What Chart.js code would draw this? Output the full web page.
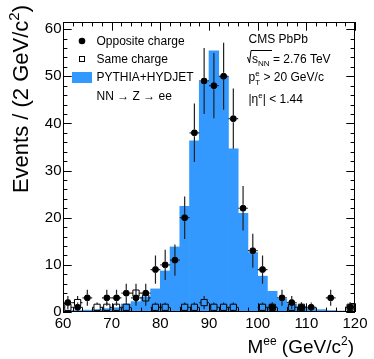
<!DOCTYPE html>
<html>
<head>
<meta charset="utf-8">
<script src="https://cdn.jsdelivr.net/npm/chart.js@4.4.1/dist/chart.umd.min.js"></script>
<style>
  html, body { margin: 0; padding: 0; background: #fff; }
  #wrap { position: relative; width: 374px; height: 359px; }
</style>
</head>
<body>
<div id="wrap"><canvas id="zee" width="374" height="359"></canvas></div>
<script>
// --- data (2 GeV/c^2 bins, 60-120) ---
const binCenters = [61, 63, 65, 67, 69, 71, 73, 75, 77, 79, 81, 83, 85, 87, 89,
                    91, 93, 95, 97, 99, 101, 103, 105, 107, 109, 111, 113, 115, 117, 119]
const mcYield = [0.3, 0.3, 0.4, 0.5, 0.7, 0.9, 1.7, 2.2, 3.2, 4.9, 8.7, 13.8, 22.4, 36.3, 48.8,
                 55.4, 50.0, 34.6, 20.9, 12.6, 7.6, 4.4, 2.7, 1.7, 1.1, 0.8, 0.5, 0.3, 0.2, 0.1]
const oppCharge = [2, 1, 3, 0, 3, 3, 4, 3, 4, 9, 10, 11, 20, 38, 49,
                   48, 50, 41, 22, 13, 9, 1, 3, 2, 1, 1, 0, 3, 0, 1]
const oppErr = [1.4, 1, 1.7, 0, 1.7, 1.7, 2, 1.7, 2, 3, 3.2, 3.3, 4.5, 6.2, 7,
                6.9, 7.1, 6.4, 4.7, 3.6, 3, 1, 1.7, 1.4, 1, 1, 0, 1.7, 0, 1]
const sameCharge = [1, 2, 0, 1, 1, 1, 1, 4, 3, 1, 1, 0, 1, 1, 2,
                    1, 1, 1, 0, 0, 1, 1, 0, 1, 1, 0, 0, 0, 0, 1]
const sameErr = [1, 1.4, 0, 1, 1, 1, 1, 2, 1.7, 1, 1, 0, 1, 1, 1.4,
                 1, 1, 1, 0, 0, 1, 1, 0, 1, 1, 0, 0, 0, 0, 1]
const halfBin = 1
const xTicks = [60, 70, 80, 90, 100, 110, 120]
const yTicks = [0, 10, 20, 30, 40, 50, 60]

const FONT = '"Liberation Sans", Arial, Helvetica, sans-serif'
const BLUE = '#3399ff'

const toPoints = (vals) => binCenters.map((x, i) => ({ x: x, y: vals[i] > 0 ? vals[i] : null }))

// draw a run of text pieces [text, size, dy]
function richText(ctx, parts, x, y, align) {
  let w = 0
  parts.forEach(p => { ctx.font = p[1] + 'px ' + FONT; w += ctx.measureText(p[0]).width })
  let cx = align === 'right' ? x - w : x
  parts.forEach(p => {
    ctx.font = p[1] + 'px ' + FONT
    ctx.fillText(p[0], cx, y + (p[2] || 0))
    cx += ctx.measureText(p[0]).width
  })
  return cx
}

// error bars, drawn under each marker set
const errorBars = {
  id: 'errorBars',
  beforeDatasetDraw(chart, args) {
    const ds = chart.data.datasets[args.index]
    if (!ds.errs) return
    const { ctx, scales: { x, y } } = chart
    const gap = ds.gap
    ctx.save()
    ctx.strokeStyle = '#222'
    ctx.lineWidth = 1.2
    ds.vals.forEach((v, i) => {
      if (!(v > 0)) return
      const px = x.getPixelForValue(binCenters[i])
      const py = y.getPixelForValue(v)
      const top = y.getPixelForValue(v + ds.errs[i])
      const bot = Math.min(y.getPixelForValue(Math.max(v - ds.errs[i], 0)), chart.chartArea.bottom)
      const lft = x.getPixelForValue(binCenters[i] - halfBin)
      const rgt = x.getPixelForValue(binCenters[i] + halfBin)
      ctx.beginPath()
      if (py - gap > top) { ctx.moveTo(px, py - gap); ctx.lineTo(px, top) }
      if (py + gap < bot) { ctx.moveTo(px, py + gap); ctx.lineTo(px, bot) }
      ctx.moveTo(lft, py); ctx.lineTo(px - gap, py)
      ctx.moveTo(px + gap, py); ctx.lineTo(rgt, py)
      ctx.stroke()
    })
    ctx.restore()
  }
}

// ROOT style frame, inward ticks, titles, legend and labels
const decor = {
  id: 'decor',
  afterDraw(chart) {
    const { ctx, chartArea: a, scales: { x, y } } = chart
    ctx.save()
    ctx.strokeStyle = '#000'
    ctx.lineWidth = 1
    ctx.strokeRect(a.left + 0.5, a.top + 0.5, a.right - a.left - 1, a.bottom - a.top - 1)
    ctx.beginPath()
    for (let m = 60; m <= 120; m += 2) {
      const px = Math.round(x.getPixelForValue(m)) + 0.5
      const len = m % 10 === 0 ? 8.7 : 4.4
      ctx.moveTo(px, a.bottom); ctx.lineTo(px, a.bottom - len)
      ctx.moveTo(px, a.top); ctx.lineTo(px, a.top + len)
    }
    for (let v = 0; v <= 60; v += 2) {
      const py = Math.round(y.getPixelForValue(v)) + 0.5
      const len = v % 10 === 0 ? 8.7 : 4.4
      ctx.moveTo(a.left, py); ctx.lineTo(a.left + len, py)
      ctx.moveTo(a.right, py); ctx.lineTo(a.right - len, py)
    }
    ctx.stroke()

    ctx.fillStyle = '#000'
    ctx.textBaseline = 'alphabetic'
    // axis titles
    richText(ctx, [['M', 19], ['ee', 12, -8], [' (GeV/c', 19], ['2', 12, -8], [')', 19]], 354, 353, 'right')
    ctx.save()
    ctx.translate(27.5, 5)
    ctx.rotate(-Math.PI / 2)
    richText(ctx, [['Events / (2 GeV/c', 22], ['2', 15, -9], [')', 22]], 0, 0, 'right')
    ctx.restore()

    // legend
    ctx.beginPath(); ctx.arc(82, 41, 3.3, 0, 2 * Math.PI); ctx.fill()
    ctx.strokeRect(79.5, 56.5, 5, 5)
    ctx.fillStyle = BLUE; ctx.fillRect(72, 72, 20, 11)
    ctx.fillStyle = '#000'
    richText(ctx, [['Opposite charge', 12]], 96.5, 45.3)
    richText(ctx, [['Same charge', 12]], 96.5, 63)
    richText(ctx, [['PYTHIA+HYDJET', 12]], 96.5, 81.3)
    richText(ctx, [['NN \u2192 Z \u2192 ee', 12]], 96.5, 100)

    // CMS labels
    richText(ctx, [['CMS PbPb', 12]], 248.5, 43.3)
    ctx.beginPath()
    ctx.moveTo(247.5, 57); ctx.lineTo(249.5, 62.8); ctx.lineTo(251, 50.5); ctx.lineTo(272, 50.5)
    ctx.stroke()
    const after = richText(ctx, [['s', 12], ['NN', 8, 3]], 252, 62.7)
    richText(ctx, [[' = 2.76 TeV', 12]], after, 62.7)
    const pEnd = richText(ctx, [['p', 12]], 248.5, 81)
    richText(ctx, [['e', 8, -5]], pEnd, 81)
    richText(ctx, [['T', 8, 4]], pEnd, 81)
    richText(ctx, [[' > 20 GeV/c', 12]], pEnd + 5, 81)
    richText(ctx, [['|\u03b7', 12], ['e', 8, -5], ['| < 1.44', 12]], 248.5, 103.3)
    ctx.restore()
  }
}

new Chart(document.getElementById('zee'), {
  data: {
    datasets: [
      {
        type: 'scatter', label: 'Opposite charge', order: 1,
        data: toPoints(oppCharge), vals: oppCharge, errs: oppErr, gap: 3.5,
        pointStyle: 'circle', pointRadius: 3, pointBorderWidth: 1,
        backgroundColor: '#000', borderColor: '#000'
      },
      {
        type: 'scatter', label: 'Same charge', order: 2,
        data: toPoints(sameCharge), vals: sameCharge, errs: sameErr, gap: 3.2,
        pointStyle: 'rect', pointRadius: 4.4, pointBorderWidth: 1,
        backgroundColor: 'rgba(0,0,0,0)', borderColor: '#000'
      },
      {
        type: 'bar', label: 'PYTHIA+HYDJET', order: 3,
        data: binCenters.map((x, i) => ({ x: x, y: mcYield[i] })),
        backgroundColor: BLUE, borderWidth: 0,
        barPercentage: 1, categoryPercentage: 1
      }
    ]
  },
  options: {
    responsive: false,
    animation: false,
    devicePixelRatio: 1,
    layout: { padding: { top: 22, right: 19, bottom: 0, left: 0 } },
    plugins: { legend: { display: false }, tooltip: { enabled: false } },
    scales: {
      x: {
        type: 'linear', min: 60, max: 120, offset: false,
        grid: { display: false, drawTicks: false }, border: { display: false },
        afterBuildTicks: s => { s.ticks = xTicks.map(v => ({ value: v })) },
        afterFit: s => { s.height = 47 },
        ticks: { color: '#000', padding: 3, maxRotation: 0, font: { family: FONT, size: 15 } }
      },
      y: {
        type: 'linear', min: 0, max: 61.5,
        grid: { display: false, drawTicks: false }, border: { display: false },
        afterBuildTicks: s => { s.ticks = yTicks.map(v => ({ value: v })) },
        afterFit: s => { s.width = 63 },
        ticks: { color: '#000', padding: 1.5, font: { family: FONT, size: 15 } }
      }
    }
  },
  plugins: [errorBars, decor]
})
</script>
</body>
</html>
